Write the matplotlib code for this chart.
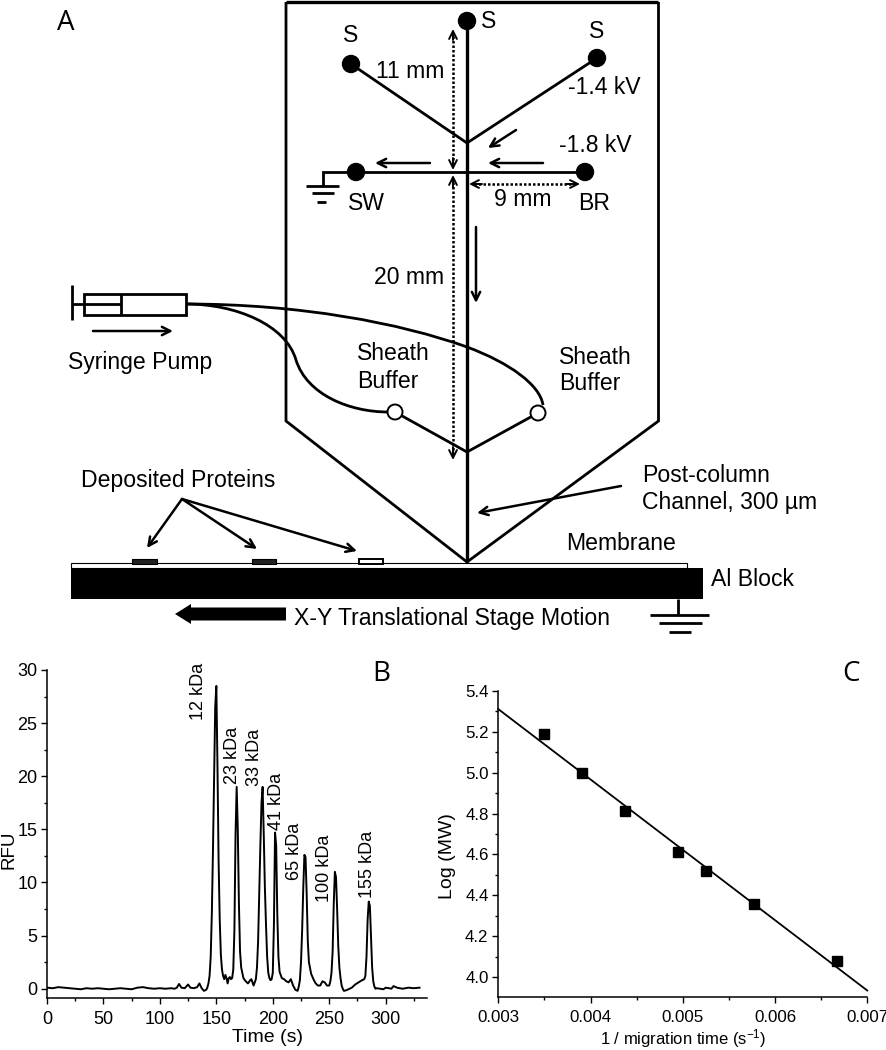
import matplotlib
matplotlib.use('Agg')
import matplotlib.pyplot as plt
from matplotlib.patches import Circle, PathPatch, Rectangle, Polygon
from matplotlib.path import Path
from matplotlib.ticker import MultipleLocator, FormatStrFormatter

plt.rcParams['font.family'] = ['Liberation Sans', 'DejaVu Sans']
plt.rcParams['mathtext.default'] = 'regular'

# panel B trace
time_s = [0, 5, 10, 15, 20, 25, 30, 35, 40, 45, 50, 55, 60, 65, 70, 75, 80, 85, 90, 95, 100, 105, 110, 113,
          115, 117, 119, 122, 125, 127, 130, 133, 135, 137, 139, 141, 142, 143, 144, 145, 146, 147, 148, 149,
          150, 151, 152, 153, 154, 155, 156, 157, 158, 159, 160, 161, 162, 163, 164, 165, 166, 167, 168, 169,
          170, 171, 172, 174, 176, 178, 180, 181, 183, 185, 186, 187, 188, 189, 190, 191, 192, 193, 194, 195,
          196, 197, 198, 199, 200, 201, 202, 203, 204, 205, 206, 208, 210, 212, 214, 216, 218, 220, 222, 223,
          224, 225, 226, 227, 228, 229, 230, 231, 232, 234, 236, 238, 240, 242, 244, 246, 248, 250, 251, 252,
          253, 254, 255, 256, 257, 258, 259, 260, 261, 262, 263, 265, 268, 270, 273, 276, 279, 281, 282, 283,
          284, 285, 286, 287, 288, 289, 290, 291, 292, 295, 298, 300, 303, 305, 307, 310, 315, 320, 325, 330]
rfu = [0.1, 0.05, 0.15, 0.1, 0.05, 0.0, -0.05, 0.05, 0.0, 0.05, 0.0, -0.05, 0.0, 0.05, 0.0, -0.05, 0.1, 0.15, 0.05, 0.0,
       0.05, 0.0, 0.05, 0.0, 0.1, 0.45, 0.1, 0.05, 0.4, 0.1, 0.05, 0.15, 0.5, 0.05, -0.2, -0.1, 0.1, 0.5, 1.2, 3.0, 7.0,
       13.0, 20.0, 26.5, 28.5, 21.0, 12.0, 6.5, 3.2, 1.8, 1.2, 0.9, 1.3, 1.0, 0.5, 1.0, 1.1, 0.9, 1.0, 1.8, 5.5, 14.5, 19.0, 15.0,
       8.0, 3.5, 2.0, 1.0, 0.7, 0.5, 0.8, 0.9, 0.3, 0.9, 2.0, 4.5, 9.0, 13.5, 17.5, 19.0, 14.5, 9.5, 6.0, 3.0,
       1.5, 1.0, 0.8, 0.9, 1.5, 6.0, 14.7, 13.5, 7.0, 3.0, 1.6, 1.0, 0.9, 0.7, 0.6, 0.9, 0.3, -0.1, -0.2, 0.2,
       0.8, 2.5, 5.5, 9.5, 12.6, 12.4, 9.0, 4.5, 2.5, 1.4, 0.9, 0.5, 0.3, 0.3, 0.7, 0.6, 0.3, 0.3, 0.7, 1.5,
       3.5, 8.0, 11.0, 10.5, 7.5, 4.0, 2.0, 1.0, 0.3, 0.0, -0.2, -0.15, 0.0, 0.1, 0.4, 0.6, 0.8, 0.9, 1.2, 3.0,
       6.5, 8.2, 7.8, 5.0, 2.0, 0.7, 0.2, 0.0, 0.05, 0.0, -0.05, 0.1, 0.05, 0.0, 0.25, 0.1, 0.0, 0.1, 0.05, 0.1]
peak_labels = ['12 kDa', '23 kDa', '33 kDa', '41 kDa', '65 kDa', '100 kDa', '155 kDa']
label_t = [134, 164, 183.4, 203.5, 218.8, 245.6, 284]
label_y = [25.3, 19.3, 19.1, 14.9, 10.2, 8.2, 8.5]

# panel C
inv_time = [0.0035, 0.00391, 0.00437, 0.00495, 0.00525, 0.00577, 0.00667]
log_mw = [5.19, 5.0, 4.81, 4.61, 4.52, 4.36, 4.08]
fit_x = [0.003, 0.007]
fit_y = [5.31, 3.935]

W, H = 887, 1050
fig = plt.figure(figsize=(W / 100, H / 100), dpi=100)


def box(x0, y0, x1, y1):
    return fig.add_axes([x0 / W, 1 - y1 / H, (x1 - x0) / W, (y1 - y0) / H])


def style(ax, size):
    ax.spines['right'].set_visible(False)
    ax.spines['top'].set_visible(False)
    ax.spines['left'].set_linewidth(1.1)
    ax.spines['bottom'].set_linewidth(1.1)
    ax.tick_params(which='major', length=4, width=1, labelsize=size, pad=3)
    ax.tick_params(which='minor', length=2.5, width=1)
    ax.tick_params(axis='x', which='major', pad=5)


# diagram layer, pixel coordinates
d = fig.add_axes([0, 0, 1, 1])
d.set_xlim(0, W)
d.set_ylim(H, 0)
d.axis('off')
LW = 2.0
TXT = 16.6


def line(xs, ys, lw=LW, **kw):
    d.plot(xs, ys, color='k', lw=lw, solid_capstyle='butt', solid_joinstyle='miter', **kw)


def arrow(x0, y0, x1, y1, lw=1.8, ms=15):
    d.annotate('', xy=(x1, y1), xytext=(x0, y0),
               arrowprops=dict(arrowstyle='->', color='k', lw=lw, mutation_scale=ms, shrinkA=0, shrinkB=0))


def dotted(x0, y0, x1, y1):
    d.plot([x0, x1], [y0, y1], color='k', lw=1.8, ls=(0, (1, 0.8)))


def dotted_head(x0, y0, x1, y1):
    d.annotate('', xy=(x1, y1), xytext=(x0, y0),
               arrowprops=dict(arrowstyle='->', color='k', lw=1.4, mutation_scale=14, shrinkA=0, shrinkB=0))


def curve(pts):
    codes = [Path.MOVETO] + [Path.CURVE4] * (len(pts) - 1)
    d.add_patch(PathPatch(Path(pts, codes), fc='none', ec='k', lw=LW))


def label(x, y, s, size=TXT, ha='center', **kw):
    d.text(x, y, s, fontsize=size, ha=ha, va='center', color='k', **kw)


# chip outline
line([286, 286, 467, 658.5, 658.5], [2, 421, 562, 421, 2])
line([286, 658.5], [2, 2], lw=2.4)
# separation channel and arms
line([467, 467], [21, 562], lw=2.4)
line([351, 467, 597], [64, 143, 58])
line([356, 585], [172, 172])
line([395, 467, 538], [412, 452, 413])
for cx, cy in [(467, 21), (351, 64), (597, 58), (356, 172), (585, 172)]:
    d.add_patch(Circle((cx, cy), 8.5, fc='k', ec='k'))
# ground at SW
line([349, 323, 323], [172, 172, 186])
line([306, 339], [186, 186])
line([312, 334], [193, 193])
line([317, 326], [202, 202])
# flow arrows
arrow(516, 130, 488, 148)
arrow(430, 163, 375, 163)
arrow(543, 163, 488, 163)
arrow(476, 227, 476, 303)
# dimension lines
dotted(453, 36, 453, 166)
dotted_head(453, 40, 453, 29)
dotted_head(453, 158, 453, 170)
dotted(453, 182, 453, 455)
dotted_head(453, 188, 453, 175)
dotted_head(453, 447, 453, 460)
dotted(474, 184, 574, 184)
dotted_head(482, 184, 469, 184)
dotted_head(566, 184, 580, 184)
# syringe
line([72, 72], [285, 320])
d.add_patch(Rectangle((84, 293.5), 102, 21.5, fc='white', ec='k', lw=LW))
line([121, 121], [293.5, 315])
line([72, 121], [304, 304])
arrow(93, 331, 173, 331)
# tubing
curve([(186, 304), (236, 304), (286, 325), (296, 360), (307, 395), (350, 412), (388, 412)])
curve([(186, 304), (300, 304), (400, 323), (467, 347), (510, 363), (540, 385), (543, 405)])
for cx, cy in [(395, 412), (538, 413)]:
    d.add_patch(Circle((cx, cy), 7.5, fc='white', ec='k', lw=1.4, zorder=3))
# stage
d.add_patch(Rectangle((71, 563), 616, 5, fc='white', ec='k', lw=0.8))
d.add_patch(Rectangle((71, 568), 632, 31, fc='k', ec='k', lw=0))
d.add_patch(Rectangle((132, 559), 25, 5, fc='#222222', ec='k', lw=0.8))
d.add_patch(Rectangle((252, 559), 24, 5, fc='#222222', ec='k', lw=0.8))
d.add_patch(Rectangle((359, 559), 24, 4.5, fc='white', ec='k', lw=1.4))
arrow(182, 499, 147, 548)
arrow(182, 499, 257, 549)
arrow(182, 499, 357, 551)
arrow(621, 486, 477, 513)
d.add_patch(Polygon([(286, 607.5), (191, 607.5), (191, 604), (175, 614), (191, 624), (191, 620.5), (286, 620.5)], fc='k', ec='k', lw=0))
# stage ground
line([678, 678], [599, 615])
line([650, 709], [615, 615])
line([659, 702], [623, 623])
line([669, 691], [632, 632])

label(66, 23, 'A', size=20, family='Open Sans')
label(489, 22, 'S')
label(351, 36, 'S')
label(597, 32, 'S')
label(410, 71, '11 mm')
label(604, 87, '-1.4 kV')
label(595, 145, '-1.8 kV')
label(366, 204, 'SW')
label(594, 204, 'BR')
label(523, 200, '9 mm')
label(409, 277, '20 mm')
label(357, 354, 'Sheath', ha='left')
label(357, 381, 'Buffer', ha='left')
label(559, 357, 'Sheath', ha='left')
label(559, 384, 'Buffer', ha='left')
label(68, 362, 'Syringe Pump', ha='left')
label(81, 481, 'Deposited Proteins', ha='left')
label(642, 475, 'Post-column', ha='left')
label(642, 503, 'Channel, 300 µm', ha='left')
label(566, 544, 'Membrane', ha='left')
label(711, 580, 'Al Block', ha='left')
label(294, 618, 'X-Y Translational Stage Motion', ha='left')

# panel B
ax_b = box(47, 670, 427, 998.3)
ax_b.plot(time_s, rfu, color='k', lw=1.4)
ax_b.set_xlim(0, 336.6)
ax_b.set_ylim(-0.9, 30)
ax_b.xaxis.set_major_locator(MultipleLocator(50))
ax_b.xaxis.set_minor_locator(MultipleLocator(25))
ax_b.yaxis.set_major_locator(MultipleLocator(5))
ax_b.yaxis.set_minor_locator(MultipleLocator(2.5))
style(ax_b, 13)
ax_b.patch.set_alpha(0)
for s, t, v in zip(peak_labels, label_t, label_y):
    ax_b.text(t, v, s, rotation=90, ha='center', va='bottom', fontsize=13)
label(268, 1037, 'Time (s)', size=14)
label(9, 850, 'RFU', size=13.5, rotation=90)
label(381, 674, 'B', size=20, family='Open Sans')

# panel C
ax_c = box(498.3, 690.7, 867.3, 997.3)
ax_c.plot(fit_x, fit_y, color='k', lw=1.3)
ax_c.plot(inv_time, log_mw, ls='none', marker='s', ms=6.5, color='k')
ax_c.set_xlim(0.003, 0.007)
ax_c.set_ylim(3.902, 5.4)
ax_c.xaxis.set_major_locator(MultipleLocator(0.001))
ax_c.xaxis.set_minor_locator(MultipleLocator(0.0005))
ax_c.yaxis.set_major_locator(MultipleLocator(0.2))
ax_c.yaxis.set_minor_locator(MultipleLocator(0.1))
ax_c.xaxis.set_major_formatter(FormatStrFormatter('%.3f'))
ax_c.yaxis.set_major_formatter(FormatStrFormatter('%.1f'))
style(ax_c, 12.2)
ax_c.patch.set_alpha(0)
for c in ax_c.lines:
    c.set_clip_on(False)
label(683, 1039, '1 / migration time (s$^{-1}$)', size=12)
label(448, 856, 'Log (MW)', size=14, rotation=90)
label(851, 674, 'C', size=20, family='Open Sans')

fig.savefig('out.png', dpi=100)
